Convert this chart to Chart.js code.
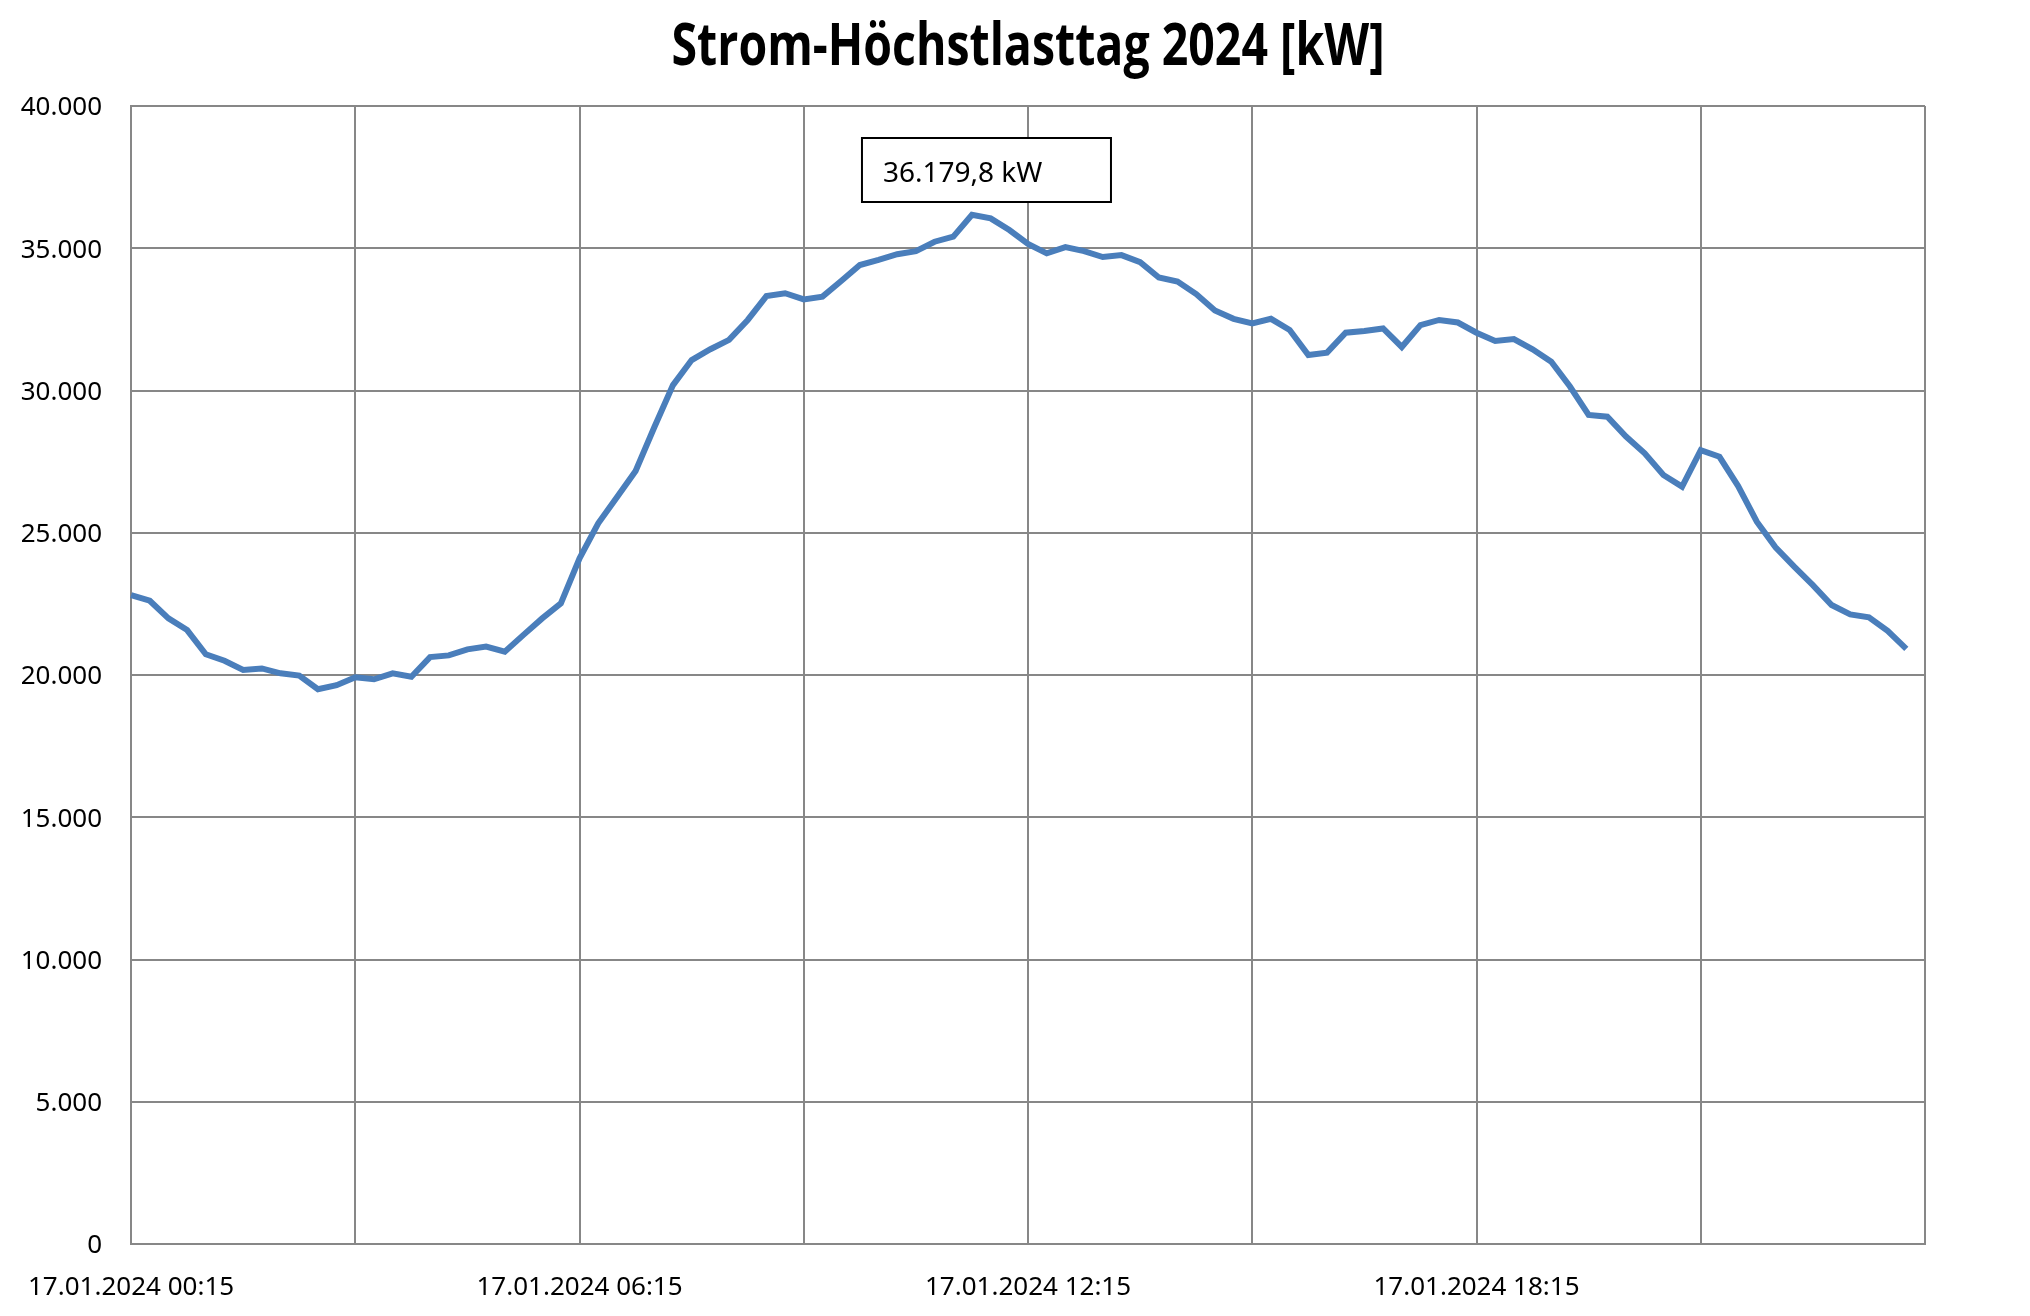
<!DOCTYPE html>
<html lang="de">
<head>
<meta charset="utf-8">
<title>Strom-Höchstlasttag 2024</title>
<script src="https://cdn.jsdelivr.net/npm/chart.js@4"></script>
<style>
  html, body { margin:0; padding:0; background:#fff; }
  #wrap { width:2030px; height:1316px; position:relative; }
</style>
</head>
<body>
<div id="wrap"><canvas id="lastChart"></canvas></div>
<script>
/* Daten: Viertelstundenwerte 17.01.2024 (kW) */
const TITEL = "Strom-Höchstlasttag 2024 [kW]";
const TAG = "17.01.2024";

const WERTE = [
  22810, 22610, 21990, 21580, 20730, 20500, 20180, 20230, 20060, 19980, 19500, 19640,
  19920, 19850, 20060, 19940, 20630, 20690, 20900, 21000, 20820, 21410, 21990, 22520,
  24100, 25330, 26250, 27170, 28710, 30190, 31070, 31450, 31780, 32480, 33320, 33420,
  33200, 33300, 33850, 34410, 34590, 34790, 34900, 35230, 35410, 36179.8, 36050, 35640,
  35150, 34820, 35040, 34900, 34690, 34760, 34510, 33970, 33830, 33390, 32810, 32520,
  32360, 32520, 32130, 31250, 31330, 32030, 32090, 32180, 31530, 32300, 32480, 32390,
  32030, 31740, 31810, 31450, 31010, 30140, 29140, 29080, 28380, 27790, 27030, 26620,
  27900, 27670, 26640, 25390, 24490, 23810, 23160, 22460, 22130, 22030, 21550, 20920
];

const X_BESCHRIFTUNG = ["17.01.2024 00:15", "17.01.2024 06:15", "17.01.2024 12:15", "17.01.2024 18:15"];
const Y_TICKS = [0, 5000, 10000, 15000, 20000, 25000, 30000, 35000, 40000];

/* Zeitachse: 00:15 ... 24:00 plus ein leerer Schlussslot */
const ZEITEN = [];
for (let i = 0; i <= WERTE.length; i++) {
  const min = 15 + i * 15;
  const h = Math.floor(min / 60) % 24, m = min % 60;
  const p = n => String(n).padStart(2, "0");
  ZEITEN.push((min >= 1440 ? "18.01.2024" : TAG) + " " + p(h) + ":" + p(m));
}

const GRID = "#878787";
const LINIE = "#4a7ebb";

/* Titel schmal (Condensed-Optik), über der Zeichenfläche zentriert */
const titelPlugin = {
  id: "titelPlugin",
  afterDraw(chart) {
    const { ctx, chartArea } = chart;
    ctx.save();
    ctx.font = "bold 59px 'Open Sans'";
    ctx.fillStyle = "#000";
    ctx.textBaseline = "alphabetic";
    const w = ctx.measureText(TITEL).width;
    const sx = 713 / w;
    const cx = (chartArea.left + chartArea.right) / 2;
    ctx.translate(cx - 713 / 2, 65);
    ctx.scale(sx, 1);
    ctx.fillText(TITEL, 0, 0);
    ctx.restore();
  }
};

/* Kasten mit Spitzenwert */
const spitzenBox = {
  id: "spitzenBox",
  afterDatasetsDraw(chart) {
    const { ctx, chartArea, scales } = chart;
    const max = Math.max(...WERTE);
    const idx = WERTE.indexOf(max);
    const px = scales.x.getPixelForValue(idx);
    const left = px - 110, top = chartArea.top + 32, w = 249, h = 64;
    ctx.save();
    ctx.fillStyle = "#fff";
    ctx.fillRect(left, top, w, h);
    ctx.strokeStyle = "#000";
    ctx.lineWidth = 2;
    ctx.strokeRect(left, top, w, h);
    ctx.fillStyle = "#000";
    ctx.font = "28px 'Noto Sans'";
    ctx.textBaseline = "alphabetic";
    const txt = max.toLocaleString("de-DE", { minimumFractionDigits: 1, maximumFractionDigits: 1 }) + " kW";
    ctx.fillText(txt, left + 21, top + 44);
    ctx.restore();
  }
};

new Chart(document.getElementById("lastChart"), {
  type: "line",
  data: {
    labels: ZEITEN,
    datasets: [{
      data: WERTE,
      borderColor: LINIE,
      borderWidth: 6,
      pointRadius: 0,
      tension: 0,
      fill: false
    }]
  },
  options: {
    responsive: true,
    maintainAspectRatio: false,
    devicePixelRatio: 1,
    animation: false,
    layout: { padding: { left: 0, right: 105, top: 106, bottom: 0 } },
    plugins: {
      legend: { display: false },
      tooltip: { enabled: false },
      title: { display: false }
    },
    scales: {
      x: {
        type: "category",
        offset: false,
        grid: {
          drawTicks: false,
          lineWidth: 2,
          color: c => (c.index % 12 === 0 ? GRID : "rgba(0,0,0,0)")
        },
        border: { color: GRID, width: 2 },
        ticks: {
          autoSkip: false,
          maxRotation: 0,
          minRotation: 0,
          padding: 28,
          color: "#000",
          font: { family: "'Noto Sans'", size: 26 },
          callback: function (v) {
            const l = this.getLabelForValue(v);
            return X_BESCHRIFTUNG.includes(l) ? l : "";
          }
        },
        afterFit: s => { s.height = 72; }
      },
      y: {
        min: 0,
        max: 40000,
        afterBuildTicks: s => { s.ticks = Y_TICKS.map(v => ({ value: v })); },
        grid: { drawTicks: false, lineWidth: 2, color: GRID },
        border: { color: GRID, width: 2 },
        ticks: {
          padding: 29,
          labelOffset: 2,
          color: "#000",
          font: { family: "'Noto Sans'", size: 26 },
          callback: v => v.toLocaleString("de-DE")
        },
        afterFit: s => { s.width = 131; }
      }
    }
  },
  plugins: [spitzenBox, titelPlugin]
});
</script>
</body>
</html>
